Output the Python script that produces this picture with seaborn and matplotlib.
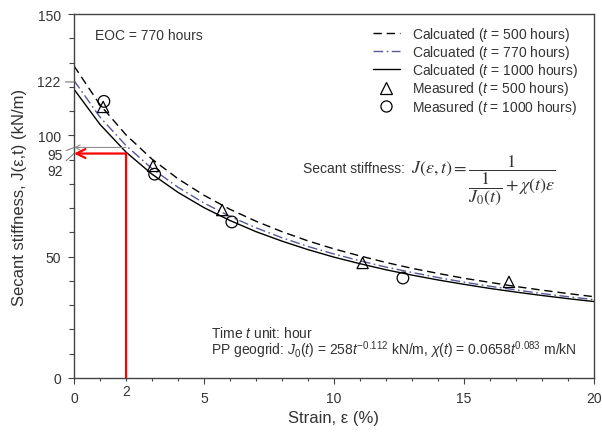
import matplotlib
matplotlib.use("Agg")
import matplotlib.pyplot as plt
import seaborn as sns
import numpy as np
from matplotlib.lines import Line2D

# ---------------- data ----------------
strain = [0, 1, 2, 3, 4, 5, 6, 7, 8, 9, 10, 11, 12, 13, 14, 15, 16, 17, 18, 19, 20]
J_500 = [128.6, 112.6, 100.2, 90.2, 82.1, 75.3, 69.5, 64.6, 60.3, 56.5, 53.2,
         50.3, 47.6, 45.2, 43.1, 41.1, 39.4, 37.7, 36.2, 34.8, 33.5]
J_770 = [122.6, 107.5, 95.8, 86.3, 78.6, 72.1, 66.6, 61.9, 57.8, 54.2, 51.1,
         48.3, 45.7, 43.5, 41.4, 39.5, 37.8, 36.3, 34.8, 33.5, 32.3]
J_1000 = [119.0, 104.5, 93.1, 84.0, 76.5, 70.2, 64.9, 60.3, 56.4, 52.9, 49.8,
          47.1, 44.6, 42.4, 40.4, 38.6, 36.9, 35.4, 34.0, 32.7, 31.5]

meas500_strain = [1.12, 3.04, 5.70, 11.10, 16.73]
meas500_J = [111.7, 87.4, 69.2, 47.4, 39.6]
meas1000_strain = [1.15, 3.10, 6.07, 12.65]
meas1000_J = [114.0, 84.0, 64.3, 41.2]

legend_labels = [r"Calcuated ($t$ = 500 hours)", r"Calcuated ($t$ = 770 hours)",
                 r"Calcuated ($t$ = 1000 hours)", r"Measured ($t$ = 500 hours)",
                 r"Measured ($t$ = 1000 hours)"]

ref_strain = 2
ref_J_gray = 95
ref_J_red = 92.5
extra_ytick = 122
extra_labels = ["95", "92"]

x_major = [0, 5, 10, 15, 20]
y_major = [0, 50, 100, 150]

# ---------------- style ----------------
sns.set_theme(style="ticks")
plt.rcParams["font.family"] = ["Liberation Sans", "DejaVu Sans"]
plt.rcParams["mathtext.fontset"] = "custom"
plt.rcParams["mathtext.rm"] = "Liberation Sans"
plt.rcParams["mathtext.it"] = "Liberation Sans:italic"
plt.rcParams["mathtext.bf"] = "Liberation Sans:bold"
plt.rcParams["mathtext.fallback"] = "cm"

TXT = "#333333"
SPN = "#444444"
BLUE = "#58589a"

fig = plt.figure(figsize=(6.02, 4.39), dpi=100)
ax = fig.add_axes([74 / 602, 1 - 379 / 439, (594 - 74) / 602, (379 - 15) / 439])

sns.lineplot(x=strain, y=J_500, ax=ax, color="black", lw=1.0,
             linestyle=(0, (6, 3.5)))
sns.lineplot(x=strain, y=J_770, ax=ax, color=BLUE, lw=1.0,
             linestyle=(0, (7, 2.5, 1.2, 2.5)))
sns.lineplot(x=strain, y=J_1000, ax=ax, color="black", lw=1.0, linestyle="-")

sns.scatterplot(x=meas500_strain, y=meas500_J, ax=ax, marker="^", s=65,
                facecolor="none", edgecolor="black", linewidth=0.9, zorder=5)
sns.scatterplot(x=meas1000_strain, y=meas1000_J, ax=ax, marker="o", s=70,
                facecolor="none", edgecolor="black", linewidth=0.9, zorder=5)

ax.set_xlim(0, 20)
ax.set_ylim(0, 150)
ax.set_xticks(x_major)
ax.set_yticks(y_major)
ax.set_xticks(np.arange(0, 21, 1), minor=True)
ax.set_yticks(np.arange(0, 151, 10), minor=True)
ax.tick_params(axis="both", which="major", direction="out", length=4.3, width=0.8,
               color=SPN, labelsize=10, labelcolor=TXT, pad=5)
ax.tick_params(axis="x", which="minor", direction="out", length=2.3, width=0.8, color=SPN)
ax.tick_params(axis="y", which="minor", direction="out", length=3.6, width=0.8, color=SPN)
for s in ax.spines.values():
    s.set_color(SPN)
    s.set_linewidth(1.0)

ax.set_xlabel("Strain, ε (%)", fontsize=12, color=TXT, labelpad=4)
ax.set_ylabel("Secant stiffness, J(ε,t) (kN/m)", fontsize=12, color=TXT, labelpad=8)

# reference arrows at strain = 2 %
ax.plot([ref_strain, ref_strain], [0, ref_J_red], color="red", lw=1.6,
        solid_capstyle="butt", zorder=4)
ax.annotate("", xy=(0, ref_J_red), xytext=(ref_strain, ref_J_red),
            arrowprops=dict(arrowstyle="->", color="red", lw=1.6,
                            mutation_scale=16, shrinkA=0, shrinkB=0), zorder=4)
ax.annotate("", xy=(0, ref_J_gray), xytext=(ref_strain, ref_J_gray),
            arrowprops=dict(arrowstyle="->", color="#909090", lw=0.8,
                            mutation_scale=9, shrinkA=0, shrinkB=0))

# special y labels
ax.annotate(str(extra_ytick), xy=(0, extra_ytick), xytext=(-9.5, 0),
            textcoords="offset points", ha="right", va="center", fontsize=10,
            color=TXT, annotation_clip=False,
            arrowprops=dict(arrowstyle="-", color="#777777", lw=0.8,
                            shrinkA=1, shrinkB=0))
ax.annotate(extra_labels[0], xy=(0, ref_J_gray), xytext=(-8, -5.5),
            textcoords="offset points", ha="right", va="center", fontsize=10,
            color=TXT, annotation_clip=False,
            arrowprops=dict(arrowstyle="-", color="#777777", lw=0.7,
                            shrinkA=0, shrinkB=0))
ax.annotate(extra_labels[1], xy=(0, ref_J_red), xytext=(-8, -12.5),
            textcoords="offset points", ha="right", va="center", fontsize=10,
            color=TXT, annotation_clip=False,
            arrowprops=dict(arrowstyle="-", color="#777777", lw=0.7,
                            shrinkA=0, shrinkB=0))
ax.annotate(str(ref_strain), xy=(ref_strain, 0), xytext=(0, -4.5),
            textcoords="offset points", ha="center", va="top", fontsize=10,
            color=TXT, annotation_clip=False)

# texts
ax.text(95 / 602, 1 - 36 / 439, "EOC = 770 hours", transform=fig.transFigure,
        fontsize=10, color=TXT, ha="left", va="center")
ax.text(303 / 602, 1 - 169 / 439, "Secant stiffness:", transform=fig.transFigure,
        fontsize=10, color=TXT, ha="left", va="center")
ax.text(411 / 602, 1 - 180 / 439,
        r"$J(\varepsilon,t)=\dfrac{1}{\dfrac{1}{J_0(t)}+\chi(t)\varepsilon}$",
        transform=fig.transFigure, fontsize=13, color=TXT, ha="left", va="center",
        math_fontfamily="stix")
ax.text(211 / 602, 1 - 333 / 439, r"Time $t$ unit: hour", transform=fig.transFigure,
        fontsize=10, color=TXT, ha="left", va="center")
ax.text(211 / 602, 1 - 350 / 439,
        r"PP geogrid: $J_0(t)$ = 258$t^{-0.112}$ kN/m, $\chi(t)$ = 0.0658$t^{0.083}$ m/kN",
        transform=fig.transFigure, fontsize=10, color=TXT, ha="left", va="center")

# legend
handles = [
    Line2D([], [], color="black", lw=1.0, linestyle=(0, (6, 3.5))),
    Line2D([], [], color=BLUE, lw=1.0, linestyle=(0, (7, 2.5, 1.2, 2.5))),
    Line2D([], [], color="black", lw=1.0, linestyle="-"),
    Line2D([], [], color="black", marker="^", mfc="none", mec="black", ms=8,
           linestyle="none", mew=0.9),
    Line2D([], [], color="black", marker="o", mfc="none", mec="black", ms=8,
           linestyle="none", mew=0.9),
]
leg = ax.legend(handles, legend_labels, loc="upper left",
                bbox_to_anchor=(367 / 602, 1 - 20 / 439), bbox_transform=fig.transFigure,
                frameon=False, fontsize=10, handlelength=2.0, handletextpad=0.85,
                labelspacing=0.02, borderpad=0.4, borderaxespad=0)
for t in leg.get_texts():
    t.set_color(TXT)

fig.savefig("out.png", dpi=100)
